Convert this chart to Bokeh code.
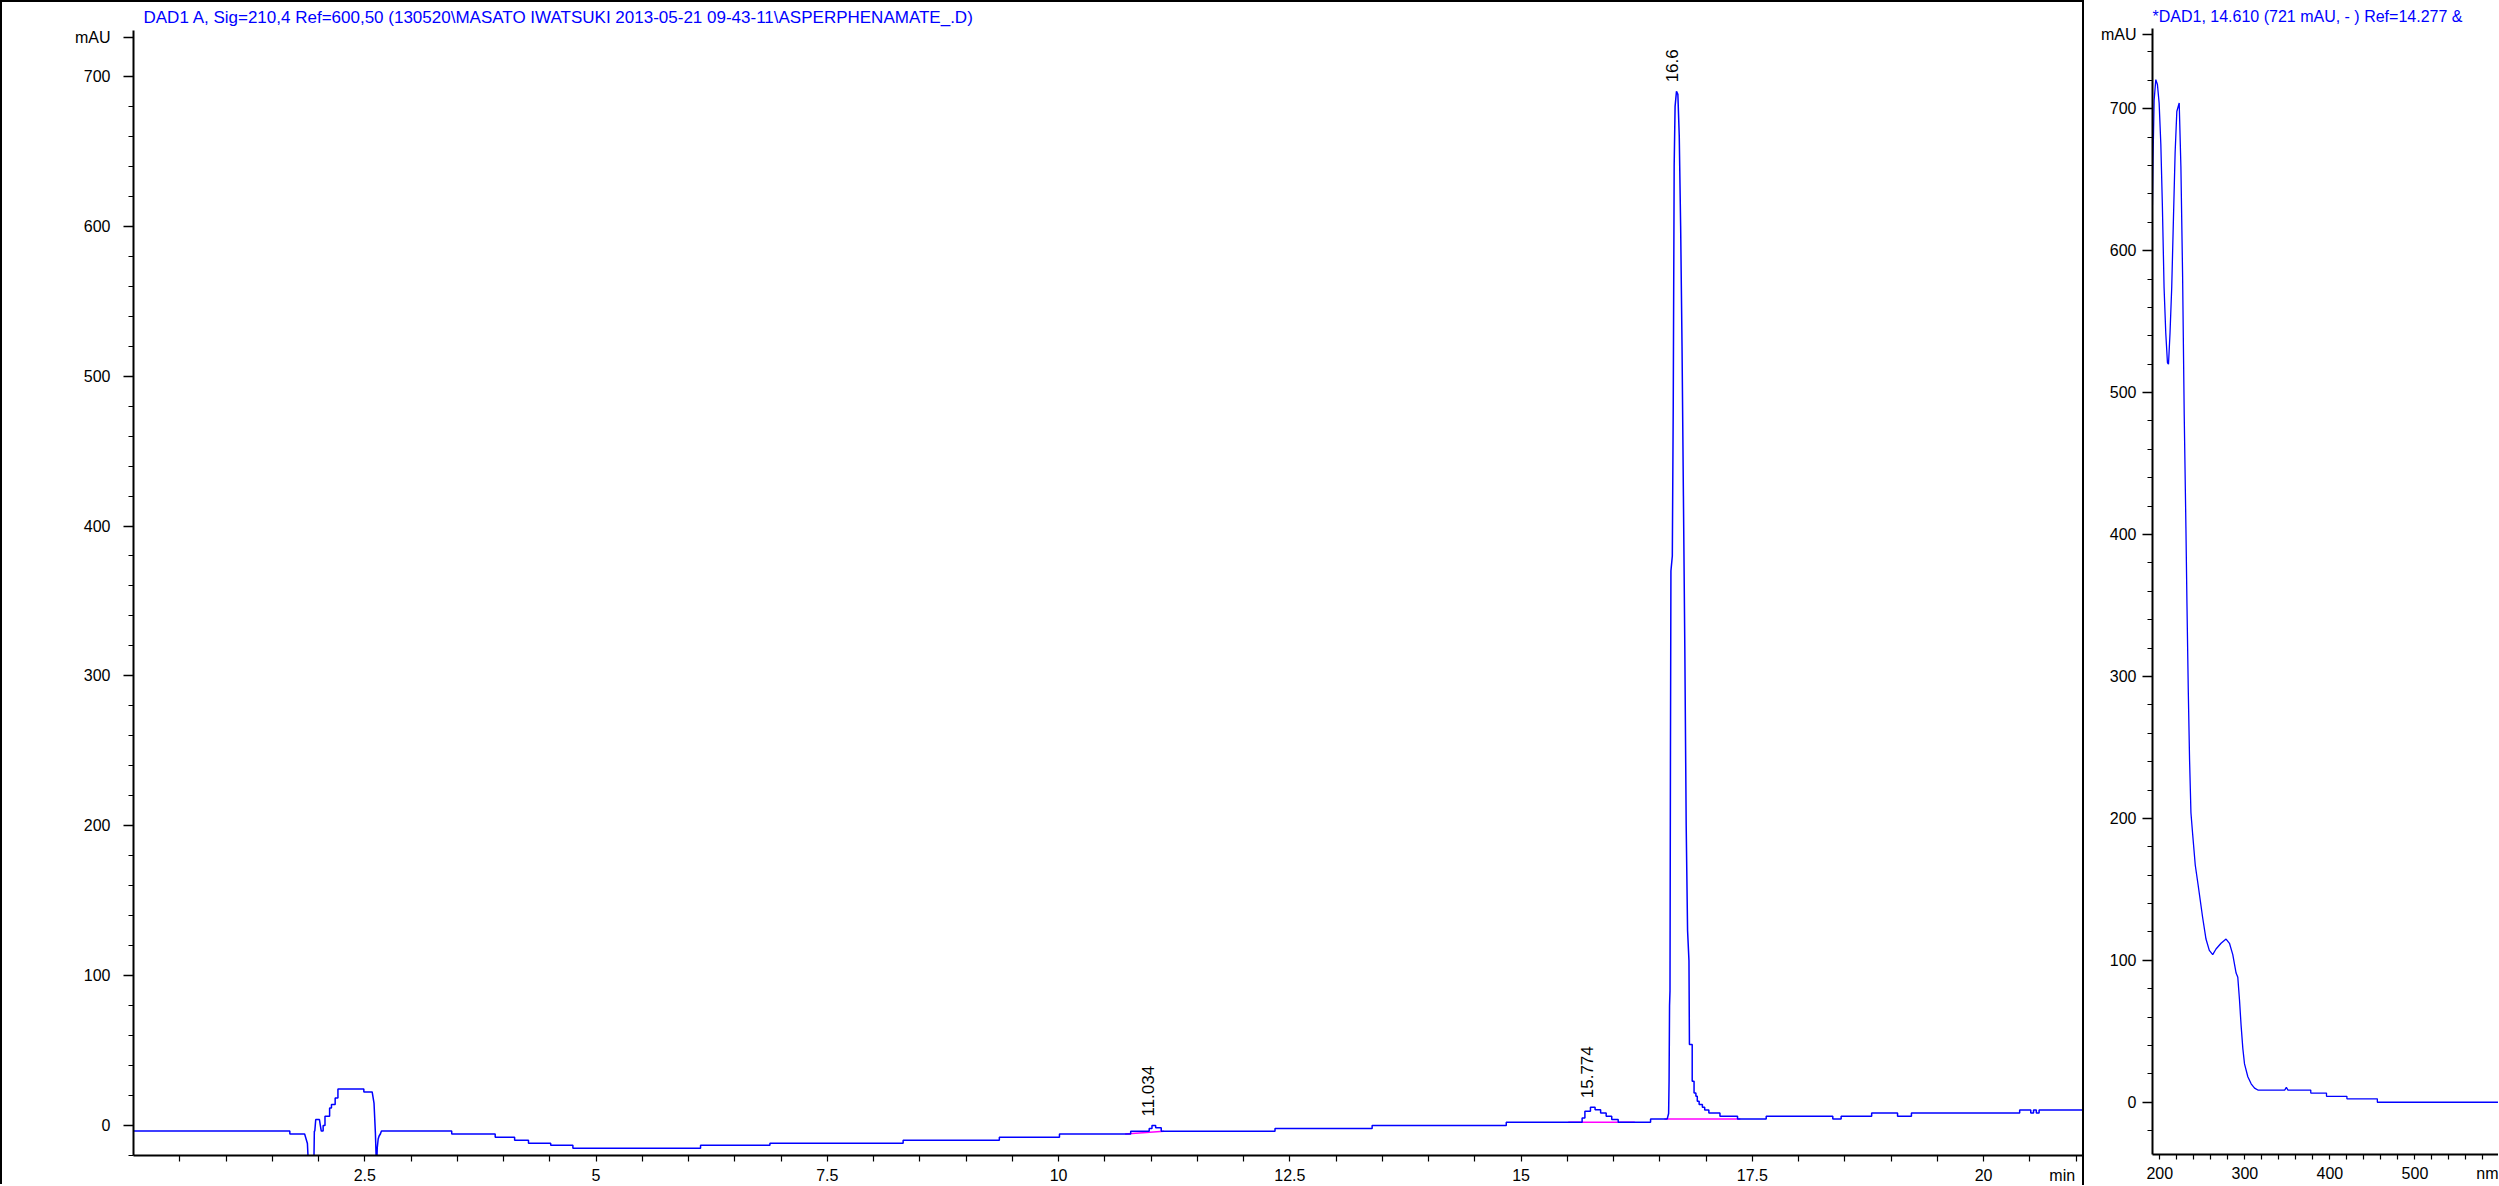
import numpy as np
from bokeh.plotting import figure
from bokeh.layouts import row
from bokeh.models import Range1d, FixedTicker
from bokeh.core.properties import value
from bokeh.embed import file_html
from bokeh.resources import INLINE

# ---------------- data ----------------
chrom_title = "DAD1 A, Sig=210,4 Ref=600,50 (130520\\MASATO IWATSUKI 2013-05-21 09-43-11\\ASPERPHENAMATE_.D)"
spec_title = "*DAD1, 14.610 (721 mAU, - ) Ref=14.277 &"

chrom_time = [
    0.00, 1.69, 1.69, 1.85, 1.88, 1.89, 1.95, 1.955, 1.96, 1.97, 2.01, 2.02, 2.03, 2.05, 2.05, 2.07,
    2.07, 2.12, 2.12, 2.14, 2.14, 2.18, 2.18, 2.21, 2.21, 2.49, 2.49, 2.58, 2.60, 2.615, 2.625, 2.63,
    2.635, 2.645, 2.655, 2.67, 2.68, 3.44, 3.44, 3.91, 3.91, 4.12, 4.12, 4.27, 4.27, 4.51, 4.51, 4.75,
    4.75, 6.13, 6.13, 6.88, 6.88, 8.32, 8.32, 9.36, 9.36, 10.01, 10.01, 10.78, 10.78, 10.98, 10.98,
    11.01, 11.01, 11.05, 11.05, 11.11, 11.11, 12.34, 12.34, 13.39, 13.39, 14.84, 14.84, 15.66, 15.66,
    15.69, 15.69, 15.75, 15.75, 15.80, 15.80, 15.86, 15.86, 15.92, 15.92, 15.98, 15.98, 16.05, 16.05,
    16.40, 16.40, 16.58, 16.595, 16.60, 16.605, 16.61, 16.615, 16.62, 16.635, 16.645, 16.655, 16.665,
    16.68, 16.695, 16.71, 16.725, 16.74, 16.755, 16.77, 16.785, 16.80, 16.815, 16.82, 16.85, 16.85,
    16.87, 16.87, 16.89, 16.89, 16.905, 16.905, 16.925, 16.925, 16.96, 16.96, 16.985, 16.985, 17.03,
    17.03, 17.15, 17.15, 17.34, 17.34, 17.65, 17.65, 18.37, 18.37, 18.46, 18.46, 18.79, 18.79, 19.07,
    19.07, 19.22, 19.22, 20.39, 20.39, 20.51, 20.51, 20.54, 20.54, 20.57, 20.57, 20.60, 20.60, 21.08,
]
chrom_mau = [
    -3.7, -3.7, -5.7, -5.7, -12.0, -25.0, -25.0, -3.7, -3.7, 4.0, 4.0, 0.0, -3.7, -3.7, 0.0, 0.0,
    6.2, 6.2, 11.7, 11.7, 14.0, 14.0, 18.4, 18.4, 24.4, 24.4, 22.4, 22.4, 15.0, -5.0, -25.0, -25.0,
    -15.0, -9.0, -7.0, -5.5, -3.7, -3.7, -5.7, -5.7, -7.8, -7.8, -9.8, -9.8, -11.8, -11.8, -13.1, -13.1,
    -15.1, -15.1, -13.1, -13.1, -11.8, -11.8, -9.8, -9.8, -7.8, -7.8, -5.7, -5.7, -3.8, -3.8,
    -2.0, -2.0, 0.0, 0.0, -1.5, -1.5, -3.8, -3.8, -2.0, -2.0, 0.0, 0.0, 2.2, 2.2, 5.1,
    5.1, 9.5, 9.5, 12.2, 12.2, 10.6, 10.6, 8.4, 8.4, 6.2, 6.2, 4.0, 4.0, 2.2,
    2.2, 4.4, 4.4, 8.0, 30.0, 80.0, 90.0, 250.0, 370.0, 380.0, 480.0, 640.0, 680.0,
    690.0, 688.0, 660.0, 600.0, 520.0, 420.0, 320.0, 200.0, 130.0, 110.0, 54.0, 54.0, 29.5,
    29.5, 21.7, 21.7, 19.5, 19.5, 16.2, 16.2, 14.0, 14.0, 12.2, 12.2, 10.4, 10.4,
    8.4, 8.4, 6.2, 6.2, 4.4, 4.4, 6.2, 6.2, 4.4, 4.4, 6.2, 6.2, 8.4, 8.4,
    6.2, 6.2, 8.4, 8.4, 10.4, 10.4, 8.4, 8.4, 10.4, 10.4, 8.4, 8.4, 10.4, 10.4,
]

peak_rt = [11.034, 15.774, 16.70]
peak_height = [0.0, 12.2, 690.0]
peak_label = ["11.034", "15.774", "16.6"]

base_t0 = [10.72, 15.51, 16.55]
base_y0 = [-5.7, 2.2, 4.4]
base_t1 = [11.14, 16.23, 17.37]
base_y1 = [-3.8, 2.2, 4.4]

spec_nm = [
    191.3, 192.0, 193.3, 195.3, 197.2, 199.2, 201.2, 203.0, 205.0, 207.0, 209.0, 210.2, 212.0, 214.0,
    216.0, 218.0, 220.0, 222.8, 224.8, 226.8, 228.7, 230.7, 231.9, 233.5, 235.0, 236.6, 238.6, 241.7,
    245.3, 250.4, 254.3, 258.2, 262.2, 266.1, 272.0, 277.9, 281.9, 285.8, 289.7, 291.7, 293.7, 295.6,
    297.6, 299.6, 303.5, 307.4, 311.4, 315.3, 346.8, 348.8, 350.7, 377.5, 377.5, 396.0, 396.0, 420.0,
    420.0, 455.8, 455.8, 600.6,
]
spec_mau = [
    632, 664, 706, 720.5, 717, 704, 675, 632, 574, 542, 521, 520, 542, 574,
    622, 669, 698, 704, 659, 582, 484, 405, 352, 289, 241, 204, 189, 167,
    152, 130, 115, 107, 104, 108, 112, 115, 112, 104, 91, 88, 72, 54,
    38, 27, 18, 13, 10, 8.6, 8.6, 10.5, 8.6, 8.6, 6.5, 6.5, 4.2, 4.2,
    2.4, 2.4, 0.0, 0.0,
]

# axis ticks / labels (the unit names sit in the tick-label rows, as in the original)
x_major = [2.5, 5, 7.5, 10, 12.5, 15, 17.5, 20, 20.85]
x_major_labels = ["2.5", "5", "7.5", "10", "12.5", "15", "17.5", "20", "min"]
y_major = [0, 100, 200, 300, 400, 500, 600, 700, 726]
y_major_labels = ["0", "100", "200", "300", "400", "500", "600", "700", "mAU"]
nm_major = [200, 300, 400, 500, 589]
nm_major_labels = ["200", "300", "400", "500", "nm"]
spec_y_major = [0, 100, 200, 300, 400, 500, 600, 700, 752.3]
spec_y_labels = ["0", "100", "200", "300", "400", "500", "600", "700", "mAU"]

# ---------------- styling helpers ----------------
FONT = "Liberation Sans"
BLUE = "#0000FF"


def style_axes(p):
    for ax in list(p.xaxis) + list(p.yaxis):
        ax.axis_line_color = "black"
        ax.axis_line_width = 2
        ax.major_tick_line_color = "black"
        ax.minor_tick_line_color = "black"
        ax.major_tick_line_width = 1.5
        ax.minor_tick_line_width = 1.2
        ax.major_tick_in = 0
        ax.minor_tick_in = 0
        ax.major_label_text_font = FONT
        ax.major_label_text_font_size = "16px"
        ax.major_label_text_color = "black"
    p.grid.visible = False


def style_title(p, text, offset, size):
    p.title.text = text
    p.title.align = "left"
    p.title.offset = offset
    p.title.standoff = 7
    p.title.text_font = FONT
    p.title.text_font_size = size
    p.title.text_font_style = "normal"
    p.title.text_color = BLUE


# ---------------- chromatogram ----------------
p1 = figure(width=2080, height=1182, x_range=Range1d(0, 21.08), y_range=Range1d(-20, 730.6),
            output_backend="svg", toolbar_location=None, title=" ",
            min_border_left=131, min_border_right=1, min_border_top=27, min_border_bottom=28)
p1.outline_line_color = None
p1.styles = {"box-sizing": "content-box", "border-left": "2px solid black",
             "border-top": "2px solid black"}
style_axes(p1)
style_title(p1, chrom_title, 10, "17px")

# x axis: all tick marks drawn as minor marks so the "min" label gets no mark
p1.xaxis.ticker = FixedTicker(ticks=x_major, minor_ticks=[0.5 * i for i in range(1, 43)])
p1.xaxis.major_label_overrides = {t: l for t, l in zip(x_major, x_major_labels)}
p1.xaxis.major_tick_line_color = None
p1.xaxis.major_tick_out = 0
p1.xaxis.minor_tick_out = 6
p1.xaxis.major_label_standoff = 5
p1.yaxis.ticker = FixedTicker(ticks=y_major, minor_ticks=list(range(-20, 720, 20)))
p1.yaxis.major_label_overrides = {t: l for t, l in zip(y_major, y_major_labels)}
p1.yaxis.major_tick_out = 10
p1.yaxis.minor_tick_out = 5
p1.yaxis.major_label_standoff = 13

p1.segment(x0=base_t0, y0=base_y0, x1=base_t1, y1=base_y1, line_color="#FF00FF", line_width=1.5)
p1.line(chrom_time, chrom_mau, line_color=BLUE, line_width=1.5)

p1.text(x=peak_rt, y=peak_height, text=peak_label, angle=np.pi / 2,
        text_align="left", text_baseline="bottom", y_offset=-9,
        text_font=value(FONT), text_font_size="17px", text_color="black")

# ---------------- UV spectrum ----------------
p2 = figure(width=414, height=1185, x_range=Range1d(191.4, 600.6), y_range=Range1d(-36.8, 756.5),
            output_backend="svg", toolbar_location=None, title=" ",
            min_border_left=68, min_border_right=0, min_border_top=26, min_border_bottom=26)
p2.outline_line_color = None
p2.styles = {"box-sizing": "content-box", "border-left": "2px solid black"}
style_axes(p2)
style_title(p2, spec_title, 0, "16px")
p2.xaxis.ticker = FixedTicker(ticks=nm_major, minor_ticks=list(range(200, 601, 20)))
p2.xaxis.major_label_overrides = {t: l for t, l in zip(nm_major, nm_major_labels)}
p2.xaxis.major_tick_line_color = None
p2.xaxis.major_tick_out = 0
p2.xaxis.minor_tick_out = 5
p2.xaxis.major_label_standoff = 5
p2.yaxis.ticker = FixedTicker(ticks=spec_y_major, minor_ticks=list(range(-20, 751, 20)))
p2.yaxis.major_label_overrides = {t: l for t, l in zip(spec_y_major, spec_y_labels)}
p2.yaxis.major_tick_out = 10
p2.yaxis.minor_tick_out = 5
p2.yaxis.major_label_standoff = 6

p2.line(spec_nm, spec_mau, line_color=BLUE, line_width=1.3)

layout = row(p1, p2)
open("out.html", "w").write(file_html(layout, INLINE))
